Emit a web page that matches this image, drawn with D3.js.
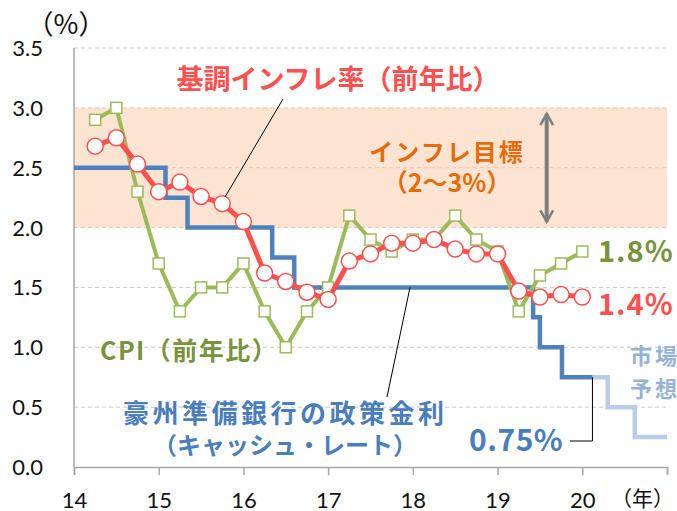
<!DOCTYPE html>
<html>
<head>
<meta charset="utf-8">
<script src="https://cdn.jsdelivr.net/npm/d3@7"></script>
<style>
body { margin: 0; background: #fff; }
svg { display: block; }
.jp { font-family: "Noto Sans CJK JP", "Noto Sans", sans-serif; font-weight: bold; }
.tick-lbl { font-family: Lato, "Open Sans", sans-serif; font-size: 22px; fill: #111; }
</style>
</head>
<body>
<svg width="677" height="511"></svg>
<script>
var svg = d3.select('svg');

// quarterly observations
var quarters = [14.25, 14.5, 14.75, 15.0, 15.25, 15.5, 15.75, 16.0,
                16.25, 16.5, 16.75, 17.0, 17.25, 17.5, 17.75, 18.0,
                18.25, 18.5, 18.75, 19.0, 19.25, 19.5, 19.75, 20.0];
var cpi = [2.9, 3.0, 2.3, 1.7, 1.3, 1.5, 1.5, 1.7,
           1.3, 1.0, 1.3, 1.5, 2.1, 1.9, 1.8, 1.9,
           1.9, 2.1, 1.9, 1.8, 1.3, 1.6, 1.7, 1.8];
var core = [2.68, 2.75, 2.53, 2.3, 2.38, 2.26, 2.2, 2.05,
            1.62, 1.55, 1.46, 1.4, 1.72, 1.78, 1.87, 1.87,
            1.9, 1.82, 1.78, 1.78, 1.47, 1.42, 1.44, 1.42];

// cash rate changes (date, level)
var rateDates = [14.0, 15.08, 15.34, 16.34, 16.6, 19.42, 19.5, 19.76, 20.12];
var rateLevels = [2.5, 2.25, 2.0, 1.75, 1.5, 1.25, 1.0, 0.75, 0.75];
// market expectation
var mktDates = [20.12, 20.3, 20.62, 21.0];
var mktLevels = [0.75, 0.5, 0.25, 0.25];

var yTicks = [0, 0.5, 1.0, 1.5, 2.0, 2.5, 3.0, 3.5];
var xTicks = [14, 15, 16, 17, 18, 19, 20, 21];
var xLabels = ['14', '15', '16', '17', '18', '19', '20', ''];
var target = [2.0, 3.0];

var x = d3.scaleLinear().domain([14, 21]).range([74, 667]);
var y = d3.scaleLinear().domain([0, 3.5]).range([467, 48]);

// target band
svg.append('rect')
  .attr('x', x(14)).attr('width', x(21) - x(14))
  .attr('y', y(target[1])).attr('height', y(target[0]) - y(target[1]))
  .attr('fill', '#fde4d2');

// gridlines
svg.selectAll('.grid')
  .data(yTicks.filter(function(d){ return d > 0; }))
  .enter()
  .append('line')
  .attr('x1', x(14)).attr('x2', x(21))
  .attr('y1', function(d){ return y(d); })
  .attr('y2', function(d){ return y(d); })
  .attr('stroke', function(d){ return (d >= 2 && d <= 3) ? '#e8c8b4' : '#c8c8c8'; })
  .attr('stroke-dasharray', '4,3')
  .attr('stroke-width', 1);

// y axis
svg.append('line')
  .attr('x1', x(14)).attr('x2', x(14))
  .attr('y1', y(3.5)).attr('y2', y(0))
  .attr('stroke', '#a6a6a6').attr('stroke-width', 1.5);

svg.selectAll('.ylbl')
  .data(yTicks)
  .enter()
  .append('text')
  .attr('class', 'tick-lbl')
  .attr('x', 43)
  .attr('y', function(d){ return y(d) + 8; })
  .attr('text-anchor', 'end')
  .text(function(d){ return d.toFixed(1); });

// x axis
var xAxis = d3.axisBottom(x)
  .tickValues(xTicks)
  .tickSize(8)
  .tickFormat(function(d, i){ return xLabels[i]; });

var gx = svg.append('g')
  .attr('transform', 'translate(0,' + y(0) + ')')
  .call(xAxis);
gx.select('.domain').attr('stroke', '#a6a6a6').attr('stroke-width', 1.5);
gx.selectAll('.tick line').attr('stroke', '#a6a6a6').attr('stroke-width', 1.5);
gx.selectAll('.tick text')
  .attr('class', 'tick-lbl')
  .attr('dy', 0)
  .attr('y', 41);

svg.append('text')
  .attr('class', 'jp')
  .attr('x', 674).attr('y', 506)
  .attr('text-anchor', 'end')
  .attr('font-size', 21)
  .attr('fill', '#111')
  .style('font-weight', 'normal')
  .text('（年）');

svg.append('text')
  .attr('class', 'jp')
  .attr('x', 66).attr('y', 34)
  .attr('text-anchor', 'middle')
  .attr('font-size', 27)
  .attr('fill', '#111')
  .style('font-weight', 'normal')
  .text('（%）');

// cash rate step line
var stepLine = d3.line()
  .x(function(d){ return x(d[0]); })
  .y(function(d){ return y(d[1]); })
  .curve(d3.curveStepAfter);

svg.append('path')
  .datum(d3.zip(mktDates, mktLevels))
  .attr('d', stepLine)
  .attr('fill', 'none')
  .attr('stroke', '#b9cde5')
  .attr('stroke-width', 4.5);

svg.append('path')
  .datum(d3.zip(rateDates, rateLevels))
  .attr('d', stepLine)
  .attr('fill', 'none')
  .attr('stroke', '#4f81bd')
  .attr('stroke-width', 4.5);

// CPI
var line = d3.line()
  .x(function(d){ return x(d[0]); })
  .y(function(d){ return y(d[1]); });

var cpiData = d3.zip(quarters, cpi);
svg.append('path')
  .datum(cpiData)
  .attr('d', line)
  .attr('fill', 'none')
  .attr('stroke', '#9bbb59')
  .attr('stroke-width', 4);

svg.selectAll('.sq')
  .data(cpiData)
  .enter()
  .append('rect')
  .attr('x', function(d){ return x(d[0]) - 5.5; })
  .attr('y', function(d){ return y(d[1]) - 5.5; })
  .attr('width', 11).attr('height', 11)
  .attr('fill', '#fff')
  .attr('stroke', '#9bbb59')
  .attr('stroke-width', 1.5);

// core inflation
var coreData = d3.zip(quarters, core);
svg.append('path')
  .datum(coreData)
  .attr('d', line)
  .attr('fill', 'none')
  .attr('stroke', '#ff5050')
  .attr('stroke-width', 5);

svg.selectAll('.circ')
  .data(coreData)
  .enter()
  .append('circle')
  .attr('cx', function(d){ return x(d[0]); })
  .attr('cy', function(d){ return y(d[1]); })
  .attr('r', 8)
  .attr('fill', '#fff')
  .attr('stroke', '#ff5050')
  .attr('stroke-width', 1.5);

// target arrow
svg.append('defs').append('marker')
  .attr('id', 'ah')
  .attr('viewBox', '0 0 10 10')
  .attr('refX', 8).attr('refY', 5)
  .attr('markerWidth', 4).attr('markerHeight', 4)
  .attr('orient', 'auto-start-reverse')
  .append('path')
  .attr('d', 'M1,1 L8,5 L1,9')
  .attr('fill', 'none')
  .attr('stroke', '#7f7f7f')
  .attr('stroke-width', 1.6);

svg.append('line')
  .attr('x1', x(19.58)).attr('x2', x(19.58))
  .attr('y1', y(2.95)).attr('y2', y(2.05))
  .attr('stroke', '#7f7f7f')
  .attr('stroke-width', 4)
  .attr('marker-start', 'url(#ah)')
  .attr('marker-end', 'url(#ah)');

// leader lines
svg.append('line')
  .attr('x1', 283).attr('y1', 99)
  .attr('x2', x(15.75) + 3).attr('y2', y(2.2) - 7)
  .attr('stroke', '#000').attr('stroke-width', 1);

svg.append('line')
  .attr('x1', 387).attr('y1', 397)
  .attr('x2', 410).attr('y2', y(1.5))
  .attr('stroke', '#000').attr('stroke-width', 1);

svg.append('polyline')
  .attr('points', [[570, 441], [x(20.12), 441], [x(20.12), y(0.75)]].join(' '))
  .attr('fill', 'none')
  .attr('stroke', '#000').attr('stroke-width', 1);

// labels
function label(txt, px, py, size, color, anchor, spacing) {
  svg.append('text')
    .attr('class', 'jp')
    .attr('x', px).attr('y', py)
    .attr('font-size', size)
    .attr('fill', color)
    .attr('text-anchor', anchor || 'start')
    .attr('letter-spacing', spacing || 0)
    .text(txt);
}

label('基調インフレ率（前年比）', 338, 89, 27, '#ff5050', 'middle');
label('インフレ目標', 447, 161, 24, '#e46c0a', 'middle', 2);
label('（2～3%）', 447, 192, 25, '#e46c0a', 'middle');
label('1.8%', 598, 262, 29, '#77933c', 'start', 1);
label('1.4%', 598, 315, 29, '#ff5050', 'start', 1);
label('CPI（前年比）', 100, 360, 25, '#77933c', 'start', 1.5);
label('豪州準備銀行の政策金利', 123, 423, 26, '#4a7ebb', 'start', 3.5);
label('（キャッシュ・レート）', 285, 454, 24, '#4a7ebb', 'middle');
label('0.75%', 469, 451, 30, '#4a7ebb', 'start', 0.5);
label('市場', 630, 364, 22, '#95b3d7', 'start', 3);
label('予想', 630, 397, 22, '#95b3d7', 'start', 3);
</script>
</body>
</html>
